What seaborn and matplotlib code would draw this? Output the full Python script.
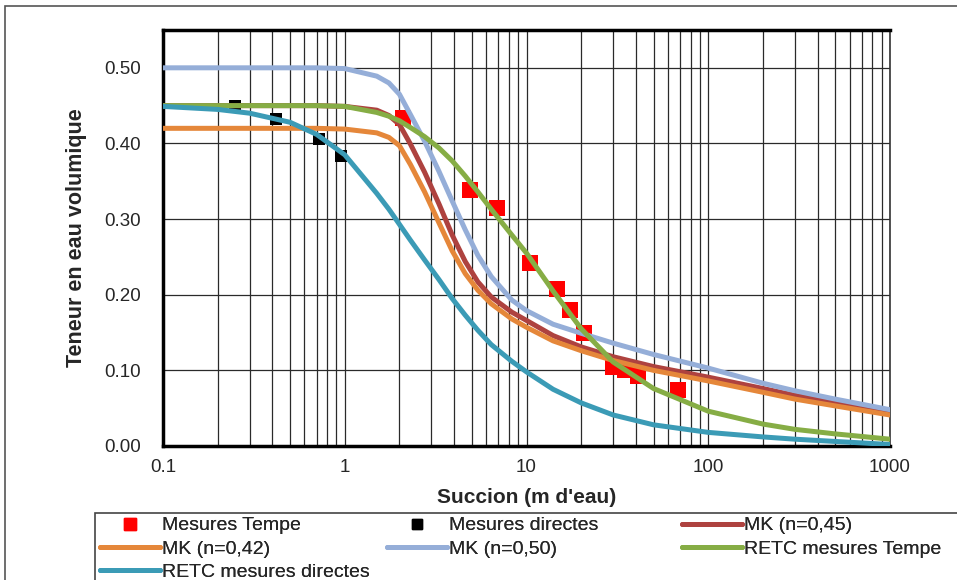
import numpy as np
import pandas as pd
import matplotlib
matplotlib.use('Agg')
import matplotlib.pyplot as plt
import seaborn as sns
from matplotlib.ticker import FuncFormatter, LogLocator, MultipleLocator
from matplotlib.lines import Line2D
from matplotlib.patches import Rectangle

# measured points
tempe_x = [2.1, 4.9, 6.9, 10.4, 14.7, 17.3, 20.8, 30, 34.8, 41, 68]
tempe_y = [0.434, 0.339, 0.315, 0.242, 0.207, 0.180, 0.150, 0.105, 0.100, 0.092, 0.074]
directes_x = [0.25, 0.42, 0.72, 0.95]
directes_y = [0.45, 0.432, 0.406, 0.384]

# fitted curves
suction = [0.1, 0.2, 0.3, 0.5, 0.7, 1, 1.5, 1.75, 2, 2.3, 2.75, 3.3, 3.9, 4.6, 5.4, 6.4,
           8.3, 10, 14, 20, 30, 50, 100, 200, 300, 500, 1000]
mk_045 = [0.450, 0.450, 0.450, 0.450, 0.450, 0.449, 0.444, 0.437, 0.425, 0.399, 0.362,
          0.320, 0.279, 0.244, 0.217, 0.197, 0.177, 0.166, 0.146, 0.131, 0.118, 0.105,
          0.091, 0.076, 0.067, 0.058, 0.045]
mk_042 = [0.420, 0.420, 0.420, 0.420, 0.420, 0.419, 0.414, 0.408, 0.397, 0.372, 0.336,
          0.295, 0.258, 0.228, 0.206, 0.188, 0.168, 0.157, 0.139, 0.126, 0.113, 0.100,
          0.086, 0.071, 0.062, 0.053, 0.041]
mk_050 = [0.500, 0.500, 0.500, 0.500, 0.500, 0.499, 0.489, 0.480, 0.465, 0.438, 0.403,
          0.363, 0.324, 0.286, 0.252, 0.224, 0.193, 0.179, 0.161, 0.149, 0.136, 0.121,
          0.103, 0.083, 0.073, 0.062, 0.048]
retc_tempe = [0.450, 0.450, 0.450, 0.450, 0.450, 0.449, 0.441, 0.436, 0.430, 0.421, 0.409,
              0.394, 0.377, 0.357, 0.336, 0.313, 0.279, 0.255, 0.205, 0.155, 0.111, 0.076,
              0.046, 0.029, 0.022, 0.016, 0.009]
retc_directes = [0.449, 0.445, 0.440, 0.428, 0.412, 0.385, 0.334, 0.313, 0.293, 0.272, 0.246,
                 0.220, 0.195, 0.173, 0.153, 0.134, 0.112, 0.098, 0.075, 0.057, 0.041, 0.028,
                 0.018, 0.012, 0.009, 0.006, 0.002]

curve_names = ['MK (n=0,45)', 'MK (n=0,42)', 'MK (n=0,50)', 'RETC mesures Tempe', 'RETC mesures directes']
curve_colors = ['#AE423F', '#E5873A', '#95AED8', '#86AD45', '#3B9BB6']

curves = pd.concat([
    pd.DataFrame({'suction': suction, 'theta': vals, 'serie': name})
    for name, vals in zip(curve_names, [mk_045, mk_042, mk_050, retc_tempe, retc_directes])
])

sns.set_style('white')
plt.rcParams['font.family'] = ['Liberation Sans', 'DejaVu Sans']

fig = plt.figure(figsize=(9.57, 5.8), dpi=100)
ax = fig.add_axes([163/957, 1-446/580, (890-163)/957, (446-30)/580])

# markers below the lines
sns.scatterplot(x=tempe_x, y=tempe_y, marker='s', s=120, color='#FF0000', linewidth=0, ax=ax, zorder=3)
sns.scatterplot(x=directes_x, y=directes_y, marker='s', s=80, color='black', linewidth=0, ax=ax, zorder=3)

sns.lineplot(data=curves, x='suction', y='theta', hue='serie', hue_order=curve_names,
             palette=curve_colors, linewidth=3.6, sort=False, estimator=None,
             legend=False, ax=ax, zorder=4)

ax.set_xscale('log')
ax.set_xlim(0.1, 1000)
ax.set_ylim(0, 0.55)
ax.yaxis.set_major_locator(MultipleLocator(0.1))
ax.yaxis.set_major_formatter(FuncFormatter(lambda v, _: f'{v:.2f}'))
ax.xaxis.set_major_locator(LogLocator(base=10))
ax.xaxis.set_minor_locator(LogLocator(base=10, subs=np.arange(2, 10)))
ax.xaxis.set_major_formatter(FuncFormatter(lambda v, _: f'{v:g}'))

ax.grid(True, which='both', axis='x', color='#2a2a2a', linewidth=0.9)
ax.grid(True, which='major', axis='y', color='#2a2a2a', linewidth=0.9)
ax.set_axisbelow(True)
ax.tick_params(axis='both', which='both', length=0, labelsize=13.5)
ax.tick_params(axis='y', pad=16)
ax.tick_params(axis='x', pad=9)

for side in ['left', 'top', 'bottom']:
    ax.spines[side].set_color('black')
    ax.spines[side].set_linewidth(2.5)
ax.spines['right'].set_color('#333333')
ax.spines['right'].set_linewidth(1.2)

ax.set_xlabel('Succion (m d\'eau)', fontsize=15, fontweight='bold', labelpad=9)
ax.set_ylabel('Teneur en eau volumique', fontsize=15.5, fontweight='bold', labelpad=12)

# outer chart border
fig.patches.append(Rectangle((5/957, -0.2), 1.2, 1.2 - 6/580, transform=fig.transFigure,
                             fill=False, edgecolor='#555555', linewidth=1.2))
# legend frame
fig.patches.append(Rectangle((95/957, -0.2), 1.2, 0.2 + 1 - 513/580, transform=fig.transFigure,
                             facecolor='white', edgecolor='#444444', linewidth=1.2))

# legend, three columns placed like the original
h_tempe = Line2D([], [], marker='s', color='#FF0000', linestyle='none', markersize=8)
h_dir = Line2D([], [], marker='s', color='black', linestyle='none', markersize=7.5)
h_lines = [Line2D([], [], color=c, linewidth=3.6, solid_capstyle='round') for c in curve_colors]
columns = [
    (96, [h_tempe, h_lines[1], h_lines[4]], ['Mesures Tempe', curve_names[1], curve_names[4]]),
    (383, [h_dir, h_lines[2]], ['Mesures directes', curve_names[2]]),
    (678, [h_lines[0], h_lines[3]], [curve_names[0], curve_names[3]]),
]
for x0, hs, ls in columns:
    leg = fig.legend(hs, ls, loc='upper left', bbox_to_anchor=(x0/957, 1-513/580),
                     frameon=False, fontsize=14, handlelength=3.1, handletextpad=0.1,
                     labelspacing=0.28, borderpad=0.2, borderaxespad=0)
    fig.add_artist(leg)

fig.savefig('out.png', dpi=100, facecolor='white')
